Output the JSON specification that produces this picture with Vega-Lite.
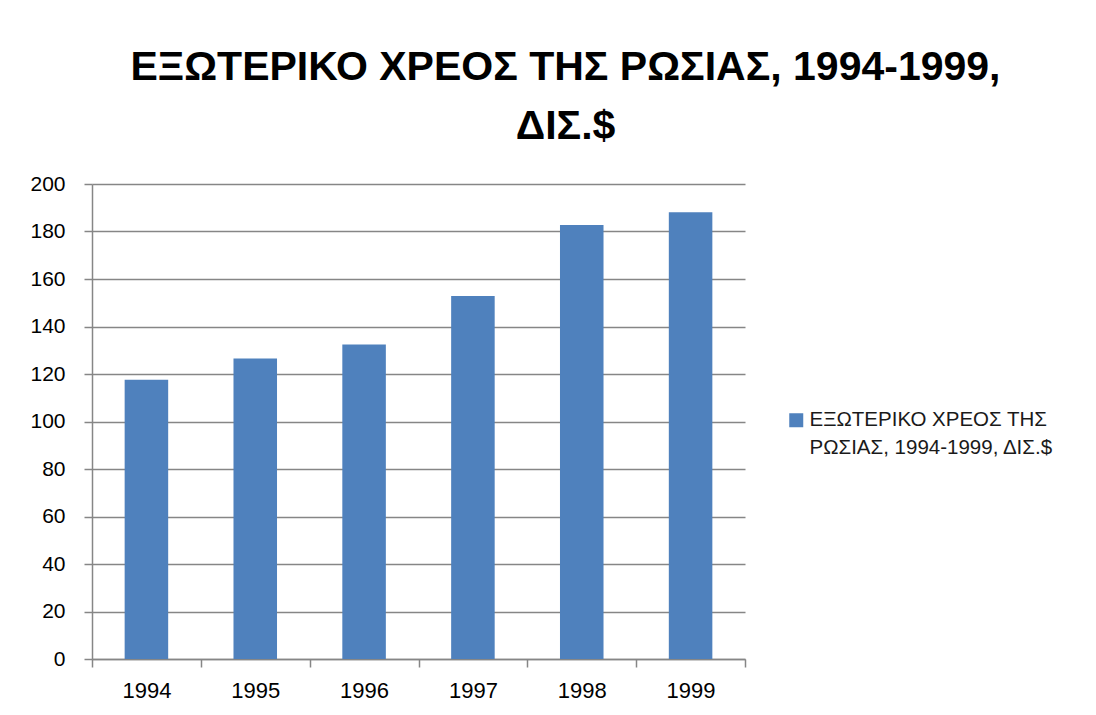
{
  "$schema": "https://vega.github.io/schema/vega-lite/v6.json",
  "autosize": {"type": "none"},
  "width": 653,
  "height": 475,
  "padding": {"left": 92, "top": 184, "right": 351, "bottom": 56},
  "background": "white",
  "title": {
    "text": ["ΕΞΩΤΕΡΙΚΟ ΧΡΕΟΣ ΤΗΣ ΡΩΣΙΑΣ, 1994-1999,", "ΔΙΣ.$"],
    "font": "Liberation Sans",
    "fontSize": 41,
    "fontWeight": "bold",
    "color": "black",
    "anchor": "middle",
    "frame": "group",
    "dx": 147,
    "offset": 25,
    "lineHeight": 59
  },
  "data": {
    "values": [
      {"year": "1994", "debt": 117.6, "series": "ΕΞΩΤΕΡΙΚΟ ΧΡΕΟΣ ΤΗΣ ΡΩΣΙΑΣ, 1994-1999, ΔΙΣ.$"},
      {"year": "1995", "debt": 126.5, "series": "ΕΞΩΤΕΡΙΚΟ ΧΡΕΟΣ ΤΗΣ ΡΩΣΙΑΣ, 1994-1999, ΔΙΣ.$"},
      {"year": "1996", "debt": 132.4, "series": "ΕΞΩΤΕΡΙΚΟ ΧΡΕΟΣ ΤΗΣ ΡΩΣΙΑΣ, 1994-1999, ΔΙΣ.$"},
      {"year": "1997", "debt": 152.8, "series": "ΕΞΩΤΕΡΙΚΟ ΧΡΕΟΣ ΤΗΣ ΡΩΣΙΑΣ, 1994-1999, ΔΙΣ.$"},
      {"year": "1998", "debt": 182.7, "series": "ΕΞΩΤΕΡΙΚΟ ΧΡΕΟΣ ΤΗΣ ΡΩΣΙΑΣ, 1994-1999, ΔΙΣ.$"},
      {"year": "1999", "debt": 188.1, "series": "ΕΞΩΤΕΡΙΚΟ ΧΡΕΟΣ ΤΗΣ ΡΩΣΙΑΣ, 1994-1999, ΔΙΣ.$"}
    ]
  },
  "mark": {"type": "bar", "width": {"band": 0.4}},
  "encoding": {
    "x": {
      "field": "year",
      "type": "ordinal",
      "scale": {"paddingInner": 0, "paddingOuter": 0},
      "axis": {
        "title": null,
        "labelAngle": 0,
        "labelFont": "Liberation Sans",
        "labelFontSize": 22,
        "labelColor": "black",
        "labelPadding": 13,
        "domainColor": "#868686",
        "domainWidth": 1.5,
        "tickColor": "#868686",
        "tickWidth": 1.5,
        "tickSize": 8,
        "tickBand": "extent",
        "grid": false
      }
    },
    "y": {
      "field": "debt",
      "type": "quantitative",
      "scale": {"domain": [0, 200], "nice": false},
      "axis": {
        "title": null,
        "values": [0, 20, 40, 60, 80, 100, 120, 140, 160, 180, 200],
        "labelFont": "Liberation Sans",
        "labelFontSize": 21,
        "labelColor": "black",
        "labelPadding": 19,
        "domainColor": "#868686",
        "domainWidth": 1.5,
        "tickColor": "#868686",
        "tickWidth": 1.5,
        "tickSize": 8,
        "grid": true,
        "gridColor": "#868686",
        "gridWidth": 1.5
      }
    },
    "color": {
      "field": "series",
      "type": "nominal",
      "scale": {"range": ["#4F81BD"]},
      "legend": {
        "title": null,
        "orient": "none",
        "legendX": 694,
        "legendY": 226,
        "symbolType": "square",
        "symbolSize": 196,
        "symbolStrokeWidth": 0,
        "labelOffset": 3,
        "labelFont": "Liberation Sans",
        "labelFontSize": 20.5,
        "labelColor": "#1a1a1a",
        "labelLimit": 400,
        "labelExpr": "['ΕΞΩΤΕΡΙΚΟ ΧΡΕΟΣ ΤΗΣ', 'ΡΩΣΙΑΣ, 1994-1999, ΔΙΣ.$']",
        "encode": {"labels": {"update": {"lineHeight": {"value": 28}}}}
      }
    }
  },
  "config": {"view": {"stroke": null}}
}
